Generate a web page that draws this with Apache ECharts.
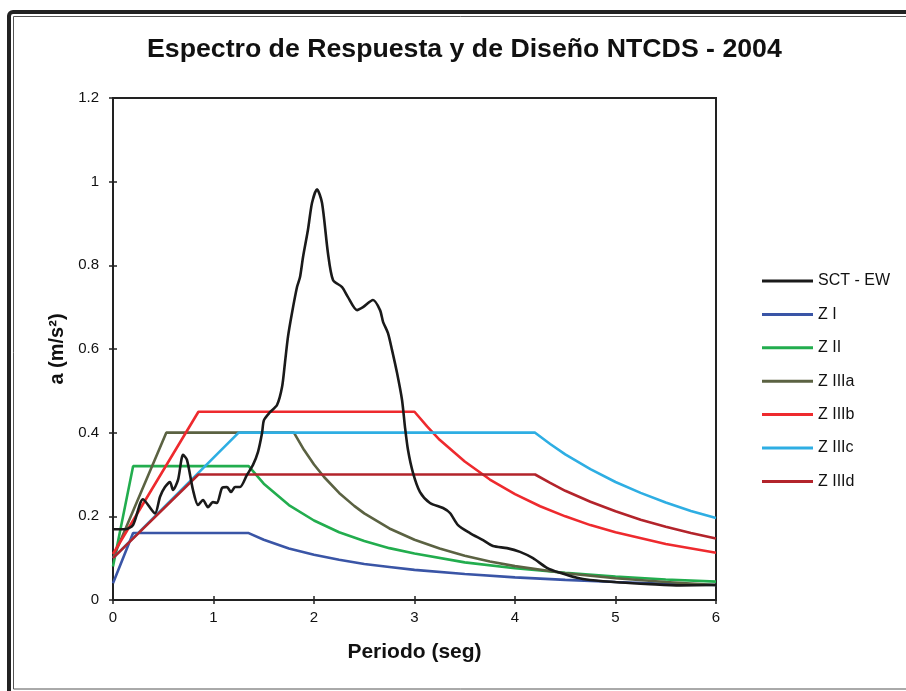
<!DOCTYPE html>
<html>
<head>
<meta charset="utf-8">
<script src="https://cdn.jsdelivr.net/npm/echarts@6/dist/echarts.min.js"></script>
<style>
  html, body { margin: 0; padding: 0; background: #fff; }
  #chart { width: 906px; height: 691px; }
</style>
</head>
<body>
<div id="chart"></div>
<script>
// Response spectrum of the SCT record, E-W component: [period (s), a (m/s²)]
var sctEW = [
  [0.000, 0.169], [0.119, 0.169], [0.199, 0.179], [0.299, 0.241], [0.418, 0.207],
  [0.468, 0.247], [0.517, 0.270], [0.567, 0.282], [0.597, 0.263], [0.647, 0.287],
  [0.697, 0.347], [0.736, 0.335], [0.796, 0.263], [0.846, 0.227], [0.896, 0.239],
  [0.945, 0.222], [0.995, 0.234], [1.035, 0.232], [1.085, 0.268], [1.134, 0.270],
  [1.174, 0.258], [1.214, 0.270], [1.264, 0.270], [1.333, 0.299], [1.393, 0.323],
  [1.443, 0.354], [1.483, 0.399], [1.502, 0.430], [1.562, 0.449], [1.632, 0.466],
  [1.682, 0.509], [1.711, 0.567], [1.741, 0.629], [1.781, 0.686], [1.831, 0.748],
  [1.861, 0.772], [1.891, 0.820], [1.940, 0.885], [1.980, 0.949], [2.030, 0.982],
  [2.080, 0.949], [2.139, 0.829], [2.189, 0.765], [2.279, 0.748], [2.338, 0.724],
  [2.428, 0.693], [2.488, 0.700], [2.587, 0.717], [2.657, 0.693], [2.687, 0.665],
  [2.736, 0.638], [2.776, 0.598], [2.826, 0.543], [2.876, 0.478], [2.905, 0.414],
  [2.935, 0.359], [2.985, 0.304], [3.055, 0.258], [3.154, 0.232], [3.284, 0.220],
  [3.353, 0.208], [3.433, 0.179], [3.552, 0.160], [3.682, 0.143], [3.781, 0.129],
  [3.920, 0.124], [4.050, 0.115], [4.179, 0.100], [4.318, 0.077], [4.448, 0.065],
  [4.617, 0.053], [4.746, 0.048], [5.045, 0.042], [5.343, 0.038], [5.642, 0.035],
  [6.000, 0.036]
];

// NTCDS-2004 design spectra by zone: [period (s), a (m/s²)]
var zoneI = [
  [0, 0.04], [0.2, 0.16], [1.35, 0.16], [1.5, 0.144], [1.75, 0.123], [2, 0.108],
  [2.25, 0.096], [2.5, 0.086], [2.75, 0.079], [3, 0.072], [3.5, 0.062], [4, 0.054],
  [4.5, 0.048], [5, 0.043], [5.5, 0.039], [6, 0.036]
];
var zoneII = [
  [0, 0.08], [0.2, 0.32], [1.35, 0.32], [1.5, 0.278], [1.75, 0.227], [2, 0.190],
  [2.25, 0.162], [2.5, 0.141], [2.75, 0.124], [3, 0.111], [3.5, 0.090], [4, 0.076],
  [4.5, 0.065], [5, 0.056], [5.5, 0.049], [6, 0.044]
];
var zoneIIIa = [
  [0, 0.10], [0.53, 0.40], [1.8, 0.40], [1.9, 0.359], [2, 0.324], [2.1, 0.294],
  [2.25, 0.256], [2.4, 0.225], [2.5, 0.207], [2.75, 0.171], [3, 0.144], [3.25, 0.123],
  [3.5, 0.106], [3.75, 0.092], [4, 0.081], [4.5, 0.064], [5, 0.052], [5.5, 0.043], [6, 0.036]
];
var zoneIIIb = [
  [0, 0.11], [0.85, 0.45], [3, 0.45], [3.125, 0.415], [3.25, 0.383], [3.5, 0.331],
  [3.75, 0.288], [4, 0.253], [4.25, 0.224], [4.5, 0.200], [4.75, 0.179], [5, 0.162],
  [5.5, 0.134], [6, 0.113]
];
var zoneIIIc = [
  [0, 0.10], [1.25, 0.40], [4.2, 0.40], [4.35, 0.373], [4.5, 0.348], [4.75, 0.313],
  [5, 0.282], [5.25, 0.256], [5.5, 0.233], [5.75, 0.213], [6, 0.196]
];
var zoneIIId = [
  [0, 0.10], [0.85, 0.30], [4.2, 0.30], [4.35, 0.280], [4.5, 0.261], [4.75, 0.235],
  [5, 0.212], [5.25, 0.192], [5.5, 0.175], [5.75, 0.160], [6, 0.147]
];

var seriesNames = ['SCT - EW', 'Z I', 'Z II', 'Z IIIa', 'Z IIIb', 'Z IIIc', 'Z IIId'];
var seriesData = [sctEW, zoneI, zoneII, zoneIIIa, zoneIIIb, zoneIIIc, zoneIIId];
var seriesColors = ['#1a1a1a', '#3a55a6', '#22ad4e', '#5b6242', '#ee2a2e', '#2eaee3', '#b3242b'];

var FONT = 'Liberation Sans, Arial, sans-serif';

var chart = echarts.init(document.getElementById('chart'), null, { renderer: 'canvas' });

var axisLineStyle = { color: '#222', width: 2 };
var tickStyle = { color: '#222', width: 1.5 };

var option = {
  animation: false,
  backgroundColor: '#fff',
  title: {
    text: 'Espectro de Respuesta y de Diseño NTCDS - 2004',
    left: 147,
    top: 36,
    padding: 0,
    textStyle: { fontFamily: FONT, fontWeight: 'bold', fontSize: 26.7, color: '#111' }
  },
  graphic: [
    {
      type: 'rect', silent: true, z: 0,
      shape: { x: 9, y: 12, width: 1000, height: 690, r: 4 },
      style: { fill: null, stroke: '#222', lineWidth: 4 }
    },
    {
      type: 'rect', silent: true, z: 0,
      shape: { x: 13.5, y: 16.5, width: 1000, height: 672.5 },
      style: { fill: null, stroke: '#555', lineWidth: 1 }
    }
  ],
  legend: {
    orient: 'vertical',
    left: 762,
    top: 273,
    padding: 0,
    icon: 'rect',
    itemWidth: 51,
    itemHeight: 3,
    itemGap: 17.4,
    data: seriesNames,
    textStyle: { fontFamily: FONT, fontSize: 16, color: '#111', lineHeight: 16 }
  },
  grid: {
    left: 113, top: 98, right: 190, bottom: 91,
    show: true, borderColor: '#222', borderWidth: 2, backgroundColor: 'transparent'
  },
  xAxis: [
    {
      type: 'value', min: 0, max: 6, interval: 1,
      name: 'Periodo (seg)', nameLocation: 'middle', nameGap: 42,
      nameTextStyle: { fontFamily: FONT, fontWeight: 'bold', fontSize: 21, color: '#111' },
      axisLine: { show: true, onZero: false, lineStyle: axisLineStyle },
      axisTick: { show: true, length: 4, lineStyle: tickStyle },
      axisLabel: { fontFamily: FONT, fontSize: 15, color: '#111', margin: 10 },
      splitLine: { show: false }
    },
    {
      type: 'value', min: 0, max: 6, interval: 1, position: 'bottom',
      axisLine: { show: false },
      axisTick: { show: true, inside: true, length: 4, lineStyle: tickStyle },
      axisLabel: { show: false },
      splitLine: { show: false }
    }
  ],
  yAxis: [
    {
      type: 'value', min: 0, max: 1.2, interval: 0.2,
      name: 'a (m/s²)', nameLocation: 'middle', nameGap: 42, nameRotate: 90,
      nameTextStyle: { fontFamily: FONT, fontWeight: 'bold', fontSize: 20, color: '#111' },
      axisLine: { show: true, onZero: false, lineStyle: axisLineStyle },
      axisTick: { show: true, length: 4, lineStyle: tickStyle },
      axisLabel: {
        fontFamily: FONT, fontSize: 15, color: '#111', margin: 14,
        formatter: function (v) { return String(Math.round(v * 10) / 10); }
      },
      splitLine: { show: false }
    },
    {
      type: 'value', min: 0, max: 1.2, interval: 0.2, position: 'left',
      axisLine: { show: false },
      axisTick: { show: true, inside: true, length: 4, lineStyle: tickStyle },
      axisLabel: { show: false },
      splitLine: { show: false }
    }
  ],
  series: seriesNames.map(function (name, i) {
    return {
      name: name,
      type: 'line',
      data: seriesData[i],
      showSymbol: false,
      symbol: 'none',
      smooth: i === 0 ? 0.25 : false,
      z: i === 0 ? 5 : 3,
      color: seriesColors[i],
      lineStyle: { color: seriesColors[i], width: 2.6 }
    };
  })
};

chart.setOption(option);
</script>
</body>
</html>
